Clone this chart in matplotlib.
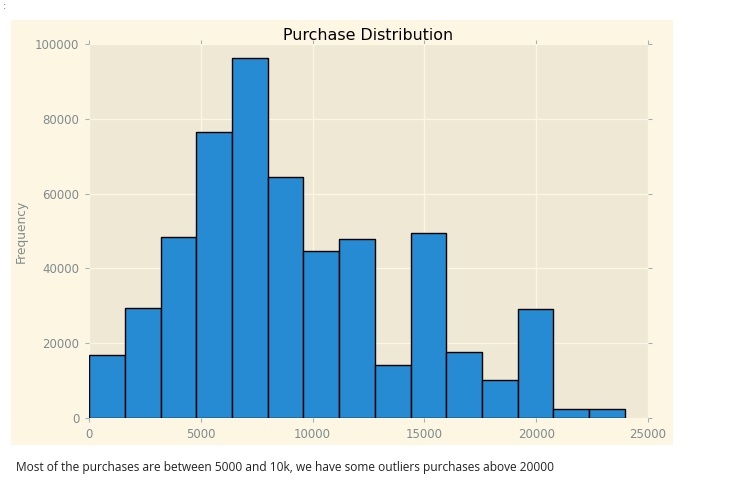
import numpy as np
import matplotlib
matplotlib.use('Agg')
import matplotlib.pyplot as plt
from matplotlib.patches import Rectangle

# Purchase histogram (15 bins between min and max purchase)
purchase_min = 12
purchase_max = 23961
counts = [16900, 29400, 48400, 76500, 96300, 64400, 44700, 47900,
          14200, 49500, 17600, 10200, 29100, 2500, 2400]
x_ticks = [0, 5000, 10000, 15000, 20000, 25000]
y_ticks = [0, 20000, 40000, 60000, 80000, 100000]

note = "Most of the purchases are between 5000 and 10k, we have some outliers purchases above 20000"

plt.style.use('Solarize_Light2')

W, H = 734, 496
fig = plt.figure(figsize=(W / 100, H / 100), dpi=100)
fig.patch.set_facecolor('white')

# cream output cell area
fig.patches.append(Rectangle((11 / W, 1 - 445 / H), (673 - 11) / W, (445 - 20) / H,
                             transform=fig.transFigure, facecolor='#fdf6e3',
                             edgecolor='none', zorder=-10))

ax = fig.add_axes([89 / W, 1 - 418 / H, (648 - 89) / W, (418 - 44) / H])
ax.set_facecolor('#eee8d5')

edges = np.linspace(purchase_min, purchase_max, len(counts) + 1)
ax.bar(edges[:-1], counts, width=np.diff(edges), align='edge',
       color='#268bd2', edgecolor='black', linewidth=1.0, zorder=2)

ax.set_xlim(0, 25000)
ax.set_ylim(0, 100000)
ax.set_xticks(x_ticks)
ax.set_yticks(y_ticks)
ax.grid(True, color='#fdf6e3', linewidth=1.0, zorder=0)
ax.set_axisbelow(True)
for s in ax.spines.values():
    s.set_visible(False)

ax.tick_params(axis='both', which='both', direction='out', length=3, width=0.8,
               colors='#a7b0b0', labelcolor='#7f8c8d', labelsize=8.5,
               top=True, right=True, pad=4)

ax.set_title('Purchase Distribution', fontsize=11.4, color='black', pad=3)
ax.set_ylabel('Frequency', fontsize=8.8, color='#7f8c8d', labelpad=5)

fig.text(16 / W, 1 - 467 / H, note, fontsize=8.6, color='#222222',
         family='Open Sans', va='center', ha='left')
fig.text(3 / W, 1 - 6 / H, ':', fontsize=7, color='#666666', va='center')

fig.savefig('out.png', dpi=100, facecolor=fig.get_facecolor())
